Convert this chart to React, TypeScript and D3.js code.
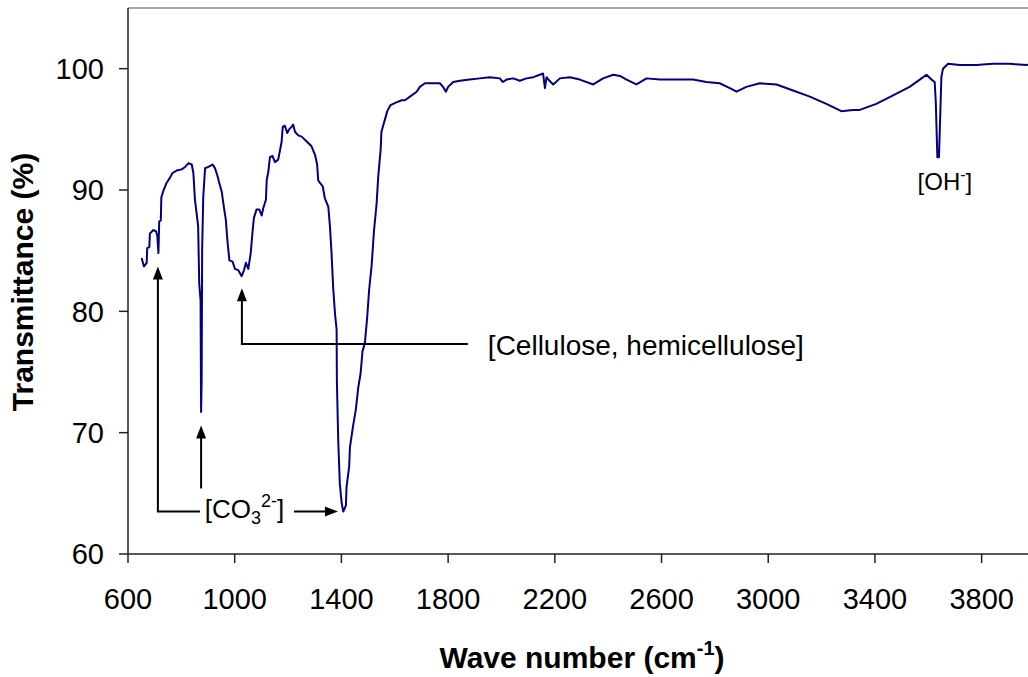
import React from "react";
import * as d3 from "d3";

const waveNumbers = [651,660,670,672,680,682,695,705,710,714,717,723,725,732,745,757,767,782,801,814,826,839,845,851,863,867,872,874,876,878,882,889,901,917,926,935,942,951,960,967,972,980,992,1001,1013,1026,1035,1042,1051,1060,1067,1072,1082,1092,1101,1107,1117,1120,1126,1132,1142,1151,1163,1170,1176,1180,1188,1197,1204,1213,1219,1226,1238,1251,1270,1288,1301,1309,1313,1319,1330,1338,1351,1357,1363,1369,1376,1382,1383,1388,1394,1401,1407,1417,1419,1429,1432,1444,1454,1463,1472,1479,1488,1497,1504,1513,1522,1532,1538,1547,1550,1563,1572,1584,1604,1626,1638,1657,1682,1694,1713,1744,1769,1781,1792,1800,1819,1844,1881,1919,1956,1994,2005,2019,2044,2069,2094,2119,2144,2156,2163,2169,2180,2194,2219,2256,2294,2344,2381,2419,2444,2469,2506,2544,2594,2656,2718,2768,2818,2856,2881,2918,2968,3031,3093,3156,3218,3274,3318,3343,3405,3468,3530,3568,3593,3612,3624,3628,3634,3640,3645,3649,3655,3674,3718,3780,3842,3905,3967,4000];
const transmittance = [84.4,83.7,84.0,85.2,85.3,86.4,86.7,86.6,86.2,84.8,87.4,87.5,89.4,89.9,90.6,91.0,91.4,91.6,91.7,91.9,92.2,92.1,91.4,89.2,87.0,82.3,80.9,71.7,74.3,85.1,89.4,91.8,91.9,92.1,91.8,91.2,90.6,89.9,88.5,87.5,86.0,84.2,84.1,83.5,83.4,82.9,83.4,84.0,83.5,84.8,86.6,87.7,88.4,88.4,87.9,88.5,89.2,90.8,91.5,92.7,92.8,92.3,92.5,93.3,94.0,95.2,95.3,94.7,95.0,95.2,95.4,94.8,94.5,94.4,94.0,93.6,92.9,92.1,90.8,90.6,90.3,89.3,88.6,87.0,84.8,82.0,79.8,78.5,74.3,69.4,65.8,64.2,63.5,64.0,65.5,67.2,68.8,70.6,71.9,73.7,74.9,76.7,77.4,79.6,81.8,83.7,86.6,88.9,91.1,93.3,94.8,95.8,96.5,97.0,97.2,97.4,97.4,97.7,98.1,98.5,98.8,98.8,98.8,98.5,98.1,98.5,98.9,99.0,99.1,99.2,99.3,99.2,98.9,99.1,99.2,99.0,99.2,99.3,99.5,99.6,98.4,99.3,99.0,98.7,99.2,99.3,99.1,98.7,99.2,99.5,99.4,99.1,98.7,99.2,99.1,99.1,99.1,98.9,98.8,98.4,98.1,98.5,98.8,98.7,98.2,97.7,97.1,96.5,96.6,96.6,97.1,97.8,98.5,99.1,99.5,99.1,98.9,97.3,92.7,92.7,96.3,99.3,100.0,100.4,100.3,100.3,100.4,100.4,100.3,100.4];

const xTicks = [600, 1000, 1400, 1800, 2200, 2600, 3000, 3400, 3800];
const yTicks = [60, 70, 80, 90, 100];

// annotation arrows in data units: polyline points, last point is the arrow tip
const arrowPaths: [number, number][][] = [
  [[870, 63.5], [712, 63.5], [712, 83.7]],
  [[874, 65.4], [874, 70.6]],
  [[1222, 63.5], [1387, 63.5]],
  [[1874, 77.3], [1027, 77.3], [1027, 81.9]],
];
const labelCO3 = { x: 888, y: 63.0 };
const labelCell = { x: 1949, y: 76.4, text: "[Cellulose, hemicellulose]" };
const labelOH = { x: 3560, y: 90.0 };

export default function App() {
  const W = 1028, H = 677;
  const x = d3.scaleLinear().domain([600, 4000]).range([128, 1035]);
  const y = d3.scaleLinear().domain([60, 105]).range([554, 8]);
  const data = waveNumbers.map((w, i) => [w, transmittance[i]] as [number, number]);
  const line = d3.line<[number, number]>().x(d => x(d[0])).y(d => y(d[1]));
  const font = "'Liberation Sans', Arial, sans-serif";
  const axisColor = "#222";

  const arrowHead = (pts: [number, number][]) => {
    const [x1, y1] = [x(pts[pts.length - 2][0]), y(pts[pts.length - 2][1])];
    const [x2, y2] = [x(pts[pts.length - 1][0]), y(pts[pts.length - 1][1])];
    const ang = Math.atan2(y2 - y1, x2 - x1);
    const L = 13, Hw = 5;
    const bx = x2 - L * Math.cos(ang), by = y2 - L * Math.sin(ang);
    const px = -Math.sin(ang) * Hw, py = Math.cos(ang) * Hw;
    return `${x2},${y2} ${bx + px},${by + py} ${bx - px},${by - py}`;
  };
  const shaftEnd = (pts: [number, number][]) => {
    const p = pts.map(d => [x(d[0]), y(d[1])] as [number, number]);
    const n = p.length;
    const ang = Math.atan2(p[n - 1][1] - p[n - 2][1], p[n - 1][0] - p[n - 2][0]);
    p[n - 1] = [p[n - 1][0] - 10 * Math.cos(ang), p[n - 1][1] - 10 * Math.sin(ang)];
    return p.map(d => d.join(",")).join(" ");
  };

  return (
    <svg width={W} height={H} style={{ position: "absolute", left: 0, top: 0, background: "#fff" }} fontFamily={font}>
      <defs>
        <clipPath id="plotClip">
          <rect x={128} y={8} width={907} height={546} />
        </clipPath>
      </defs>
      <line x1={128} x2={1035} y1={8} y2={8} stroke="#888" strokeWidth={1.5} />
      <line x1={128} x2={128} y1={8} y2={554} stroke={axisColor} strokeWidth={1.5} />
      <line x1={128} x2={1035} y1={554} y2={554} stroke={axisColor} strokeWidth={1.5} />
      {yTicks.map(t => (
        <g key={"y" + t}>
          <line x1={119} x2={128} y1={y(t)} y2={y(t)} stroke={axisColor} strokeWidth={1.5} />
          <text x={104} y={y(t) + 10.4} textAnchor="end" fontSize={29} fill="#000">{t}</text>
        </g>
      ))}
      {xTicks.map(t => (
        <g key={"x" + t}>
          <line x1={x(t)} x2={x(t)} y1={554} y2={563} stroke={axisColor} strokeWidth={1.5} />
          <text x={x(t)} y={609} textAnchor="middle" fontSize={29} fill="#000">{t}</text>
        </g>
      ))}
      <text x={582} y={668} textAnchor="middle" fontSize={30} fontWeight="bold" fill="#000">
        Wave number (cm<tspan fontSize={20} dy={-13}>-1</tspan><tspan dy={13}>)</tspan>
      </text>
      <text transform="translate(33,282) rotate(-90)" textAnchor="middle" fontSize={30} fontWeight="bold" fill="#000">
        Transmittance (%)
      </text>
      <path d={line(data) || ""} fill="none" stroke="#000080" strokeWidth={2} clipPath="url(#plotClip)" strokeLinejoin="round" />
      {arrowPaths.map((pts, i) => (
        <g key={"a" + i}>
          <polyline points={shaftEnd(pts)} fill="none" stroke="#000" strokeWidth={2} />
          <polygon points={arrowHead(pts)} fill="#000" />
        </g>
      ))}
      <text x={x(labelCO3.x)} y={y(labelCO3.y)} fontSize={26} fill="#000">
        [CO<tspan fontSize={18} dy={6}>3</tspan><tspan fontSize={18} dy={-17}>2-</tspan><tspan dy={11}>]</tspan>
      </text>
      <text x={x(labelCell.x)} y={y(labelCell.y)} fontSize={28} fill="#000">{labelCell.text}</text>
      <text x={x(labelOH.x)} y={y(labelOH.y)} fontSize={24} fill="#000">
        [OH<tspan fontSize={16} dy={-10}>-</tspan><tspan dy={10}>]</tspan>
      </text>
    </svg>
  );
}
